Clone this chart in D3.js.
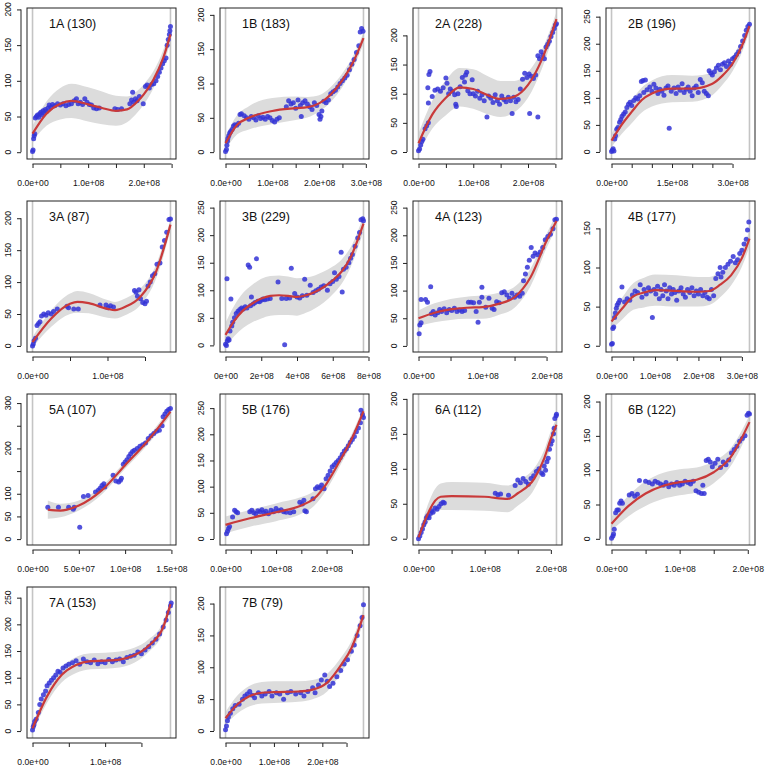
<!DOCTYPE html>
<html><head><meta charset="utf-8">
<script src="https://cdn.jsdelivr.net/npm/d3@7"></script>
<style>body{margin:0;background:#fff}svg{display:block}text{font-family:"Liberation Sans",Arial,Helvetica,sans-serif;fill:#111}</style>
</head><body><svg id="c" width="765" height="769"></svg>
<script>
// ---- data (x in units of 1e8) ----
const panelTitles=["1A (130)","1B (183)","2A (228)","2B (196)","3A (87)","3B (229)","4A (123)","4B (177)","5A (107)","5B (176)","6A (112)","6B (122)","7A (153)","7B (79)"];
const xMaxes=[2.48,2.95,2.52,3.42,1.84,7.72,2.155,3.175,1.49,2.73,2.085,2.025,1.9,2.85];
const yLims=[[-9.5,202],[-10,210],[-12,247],[-13,266],[-9.5,227],[-12,262],[-11,262],[-8,185],[-13,320],[-11.5,277],[-9,207],[-9,211],[-13,270],[-11,226]];
const xTicks=[
 [0,0.5,1,1.5,2,2.5],[0,0.5,1,1.5,2,2.5,3],[0,0.5,1,1.5,2,2.5],[0,0.5,1,1.5,2,2.5,3],
 [0,0.5,1,1.5],[0,2,4,6,8],[0,0.5,1,1.5,2],[0,0.5,1,1.5,2,2.5,3],
 [0,0.5,1,1.5],[0,0.5,1,1.5,2,2.5],[0,0.5,1,1.5,2],[0,0.5,1,1.5,2],
 [0,0.5,1,1.5],[0,0.5,1,1.5,2,2.5]];
const xTickLabels=[
 ["0.0e+00","","1.0e+08","","2.0e+08",""],
 ["0.0e+00","","1.0e+08","","2.0e+08","","3.0e+08"],
 ["0.0e+00","","1.0e+08","","2.0e+08",""],
 ["0.0e+00","","","1.5e+08","","","3.0e+08"],
 ["0.0e+00","","1.0e+08",""],
 ["0e+00","2e+08","4e+08","6e+08","8e+08"],
 ["0.0e+00","","1.0e+08","","2.0e+08"],
 ["0.0e+00","","1.0e+08","","2.0e+08","","3.0e+08"],
 ["0.0e+00","5.0e+07","1.0e+08","1.5e+08"],
 ["0.0e+00","","1.0e+08","","2.0e+08",""],
 ["0.0e+00","","1.0e+08","","2.0e+08"],
 ["0.0e+00","","1.0e+08","","2.0e+08"],
 ["0.0e+00","","1.0e+08",""],
 ["0.0e+00","","1.0e+08","","2.0e+08",""]];
const yTicks=[
 [0,50,100,150,200],[0,50,100,150,200],[0,50,100,150,200],[0,50,100,150,200,250],
 [0,50,100,150,200],[0,50,100,150,200,250],[0,50,100,150,200,250],[0,50,100,150],
 [0,50,100,150,200,250,300],[0,50,100,150,200,250],[0,50,100,150,200],[0,50,100,150,200],
 [0,50,100,150,200,250],[0,50,100,150,200]];
const yTickLabels=[
 ["0","50","100","150","200"],["0","50","100","150","200"],["0","50","100","150","200"],["0","50","100","150","200","250"],
 ["0","50","100","150","200"],["0","50","100","150","200","250"],["0","50","100","150","200","250"],["0","50","100","150"],
 ["0","50","100","","200","","300"],["0","50","100","150","200","250"],["0","50","100","150","200"],["0","50","100","150","200"],
 ["0","50","100","150","200","250"],["0","50","100","150","200"]];

// fitted curve: [x, fit, half-width of band]
const fit1A=[[0,26,11],[0.25,54,17],[0.5,68,22],[0.7,72,24],[1.0,67,24],[1.25,62,23],[1.5,58,21],[1.7,60,18],[1.9,72,15],[2.0,81,14],[2.17,101,12],[2.35,132,11],[2.48,165,10]];
const fit1B=[[0,13,10],[0.25,40,14],[0.5,50,17],[1.0,60,19],[1.5,64,17],[1.75,65.5,15],[2.0,71,12],[2.25,84,11],[2.5,105,10],[2.75,134,9],[2.95,166,8]];
const fit2A=[[0,15,17],[0.25,64,24],[0.5,93,30],[0.75,111,33],[1.0,108,34],[1.25,98,33],[1.5,91,31],[1.75,95,27],[2.0,115,22],[2.25,158,16],[2.52,228,12]];
const fit2B=[[0,21,12],[0.25,50,17],[0.5,74,21],[0.75,96,23],[1.0,108,24],[1.5,117,25],[2.0,117,24],[2.5,126,21],[2.75,141,17],[3.0,163,14],[3.25,199,12],[3.42,233,11]];
const fit3A=[[0,6,8],[0.25,43,13],[0.5,66,16],[0.6,69,17],[0.75,67,16],[1.0,58,14],[1.1,56,13],[1.25,62,13],[1.43,76,13],[1.65,117,11],[1.84,190,9]];
const fit3B=[[0,19,22],[0.5,45,28],[1.0,64,32],[1.5,76,34],[2.0,85,36],[2.5,90,36],[3.0,91,36],[3.5,90,35],[4.0,88,34],[4.5,91,32],[5.0,97,30],[5.5,106,28],[6.0,118,25],[6.5,134,22],[7.0,160,18],[7.72,221,14]];
const fit4A=[[0,50,14],[0.25,60,17],[0.5,66,19],[0.75,69,20],[1.0,70,21],[1.25,76,20],[1.5,88,19],[1.75,124,16],[2.0,190,13],[2.155,226,12]];
const fit4B=[[0,31,10],[0.25,48,14],[0.5,63,17],[0.75,68,19],[1.0,71,20],[1.5,70,20],[2.0,69,19],[2.25,70,18],[2.5,78,16],[2.75,90,13],[3.0,112,11],[3.175,137,10]];
const fit5A=[[0.165,65,20],[0.3,63,15],[0.5,74,11],[0.75,108,9],[1.0,163,8],[1.25,218,8],[1.49,281,9]];
const fit5B=[[0,27,16],[0.5,40,16],[1.0,51,17],[1.5,64,16],[1.75,77,14],[2.0,106,12],[2.25,147,10],[2.5,192,9],[2.73,244,8]];
const fit6A=[[0,2,5],[0.335,60,19],[0.5,61,20],[1.0,60,20],[1.35,57,19],[1.5,65,18],[1.75,86,15],[1.9,115,12],[2.0,143,11],[2.085,163,10]];
const fit6B=[[0,22,10],[0.25,48,15],[0.5,66,18],[0.75,77,19],[1.0,82.5,19],[1.25,86,18],[1.5,97,16],[1.75,119,13],[2.025,170,10]];
const fit7A=[[0,5,8],[0.2,65,12],[0.4,105,14],[0.6,124,15],[0.8,131,15],[1.0,132,15],[1.2,134,15],[1.4,142,14],[1.6,160,12],[1.8,195,10],[1.9,238,9]];
const fit7B=[[0,20,10],[0.25,42,14],[0.5,55,16],[0.75,60,17],[1.0,61,17],[1.5,62,16],[1.8,65,15],[2.1,76,14],[2.4,105,12],[2.6,130,11],[2.85,182,10]];

// observed points: [x, value]
const pts1A=[[0.00,1],[0.01,3],[0.02,19],[0.03,23],[0.04,26],[0.05,48],[0.07,50],[0.09,52],[0.11,49],[0.13,54],[0.15,56],[0.17,52],[0.19,58],[0.21,55],[0.23,60],[0.25,57],[0.28,62],[0.30,66],[0.33,63],[0.36,67],[0.40,65],[0.45,68],[0.50,66],[0.55,68],[0.60,65],[0.65,67],[0.70,68],[0.75,72],[0.79,75],[0.82,68],[0.86,70],[0.90,67],[0.94,75],[0.98,70],[1.02,67],[1.06,66],[1.10,62],[1.15,61],[1.20,62],[1.48,61],[1.53,60],[1.60,61],[1.75,68],[1.78,73],[1.80,84],[1.82,70],[1.85,75],[1.88,72],[1.92,78],[1.99,68],[2.03,92],[2.06,94],[2.10,90],[2.14,95],[2.18,96],[2.22,100],[2.25,106],[2.28,112],[2.31,118],[2.34,124],[2.37,128],[2.40,132],[2.42,150],[2.44,158],[2.46,165],[2.47,170],[2.48,176]];
const pts1B=[[0.00,1],[0.02,4],[0.03,10],[0.04,16],[0.05,20],[0.07,24],[0.09,28],[0.11,30],[0.14,33],[0.17,38],[0.20,40],[0.24,39],[0.28,42],[0.31,55],[0.34,56],[0.40,53],[0.45,50],[0.50,48],[0.55,52],[0.60,50],[0.65,47],[0.70,53],[0.75,49],[0.80,51],[0.85,48],[0.90,52],[0.95,50],[1.00,46],[1.05,44],[1.10,48],[1.15,50],[1.30,66],[1.35,75],[1.40,70],[1.45,72],[1.50,64],[1.55,76],[1.60,68],[1.62,52],[1.65,72],[1.70,75],[1.75,70],[1.80,66],[1.85,62],[1.90,72],[1.95,68],[2.00,55],[2.02,48],[2.04,52],[2.06,60],[2.10,74],[2.15,72],[2.20,76],[2.25,85],[2.30,88],[2.35,90],[2.40,95],[2.45,100],[2.50,104],[2.55,108],[2.60,112],[2.65,120],[2.70,128],[2.75,135],[2.80,145],[2.85,155],[2.88,175],[2.91,180],[2.94,176]];
const pts2A=[[0.00,2],[0.02,5],[0.04,12],[0.06,18],[0.08,22],[0.12,40],[0.15,45],[0.18,50],[0.18,84],[0.17,110],[0.19,133],[0.21,138],[0.25,95],[0.30,106],[0.35,108],[0.40,104],[0.45,110],[0.50,127],[0.52,118],[0.55,100],[0.58,108],[0.62,104],[0.66,98],[0.68,82],[0.69,78],[0.72,100],[0.76,112],[0.80,128],[0.84,120],[0.86,132],[0.88,137],[0.90,105],[0.94,100],[0.98,124],[1.00,100],[1.04,96],[1.08,104],[1.12,92],[1.16,98],[1.20,88],[1.25,60],[1.28,96],[1.32,92],[1.36,85],[1.40,98],[1.44,88],[1.48,82],[1.52,96],[1.56,90],[1.60,86],[1.64,94],[1.68,88],[1.71,66],[1.74,94],[1.78,86],[1.82,90],[1.86,108],[1.90,125],[1.94,135],[1.98,128],[2.03,66],[2.02,134],[2.06,130],[2.10,126],[2.14,132],[2.18,60],[2.18,165],[2.21,160],[2.24,172],[2.27,166],[2.30,160],[2.33,180],[2.36,185],[2.39,190],[2.42,198],[2.45,205],[2.48,212],[2.50,218],[2.52,220]];
const pts2B=[[0.00,1],[0.02,3],[0.04,6],[0.06,2],[0.08,24],[0.10,30],[0.13,42],[0.16,45],[0.20,55],[0.23,60],[0.26,66],[0.30,70],[0.34,74],[0.38,82],[0.42,88],[0.46,92],[0.50,86],[0.55,95],[0.60,100],[0.65,98],[0.70,104],[0.74,130],[0.78,132],[0.84,133],[0.80,110],[0.88,115],[0.95,120],[1.00,112],[1.05,125],[1.10,118],[1.15,108],[1.20,116],[1.25,112],[1.30,105],[1.35,118],[1.40,122],[1.43,44],[1.48,112],[1.55,118],[1.60,108],[1.65,120],[1.70,114],[1.75,126],[1.80,110],[1.85,116],[1.90,120],[1.95,112],[2.00,104],[2.05,118],[2.10,122],[2.15,110],[2.20,134],[2.25,128],[2.30,112],[2.35,108],[2.40,104],[2.42,150],[2.46,146],[2.50,142],[2.55,148],[2.60,155],[2.65,160],[2.70,152],[2.75,162],[2.80,165],[2.85,158],[2.90,168],[2.95,162],[3.00,172],[3.05,175],[3.10,180],[3.15,185],[3.20,195],[3.25,205],[3.30,215],[3.34,225],[3.38,232],[3.42,236]];
const pts3A=[[0.00,0],[0.01,3],[0.02,8],[0.04,12],[0.06,32],[0.08,35],[0.10,38],[0.12,47],[0.15,50],[0.18,48],[0.21,52],[0.25,50],[0.28,54],[0.33,58],[0.46,62],[0.48,60],[0.55,58],[0.61,58],[0.90,64],[0.98,64],[1.01,60],[1.04,63],[1.08,61],[1.36,87],[1.38,84],[1.40,78],[1.42,88],[1.44,74],[1.47,68],[1.50,66],[1.52,70],[1.54,94],[1.57,100],[1.60,110],[1.63,113],[1.66,128],[1.70,130],[1.73,155],[1.76,165],[1.79,178],[1.82,198],[1.84,199]];
const pts3B=[[0.00,2],[0.05,0],[0.08,121],[0.10,8],[0.15,12],[0.20,10],[0.25,26],[0.30,84],[0.35,35],[0.40,42],[0.50,50],[0.60,58],[0.70,62],[0.80,65],[0.90,68],[1.00,66],[1.10,70],[1.20,68],[1.27,146],[1.35,142],[1.40,72],[1.45,88],[1.55,75],[1.65,78],[1.73,157],[1.80,80],[1.90,79],[2.00,82],[2.10,84],[2.20,83],[2.35,84],[2.50,85],[2.94,115],[3.15,85],[3.31,1],[3.40,85],[3.59,86],[3.68,140],[3.87,94],[4.00,88],[4.15,86],[4.30,90],[4.43,120],[4.55,91],[4.74,109],[4.90,96],[5.05,99],[5.20,102],[5.35,106],[5.50,108],[5.70,100],[5.85,112],[6.00,116],[6.10,132],[6.20,120],[6.35,125],[6.47,169],[6.53,97],[6.60,138],[6.75,142],[6.90,150],[7.00,158],[7.10,165],[7.25,180],[7.40,195],[7.50,205],[7.58,228],[7.68,230],[7.72,226]];
const pts4A=[[0.01,22],[0.02,38],[0.04,42],[0.04,84],[0.11,84],[0.14,79],[0.19,107],[0.20,58],[0.23,62],[0.26,56],[0.30,60],[0.33,66],[0.36,62],[0.40,67],[0.44,60],[0.48,66],[0.52,64],[0.56,68],[0.60,62],[0.64,65],[0.68,62],[0.72,64],[0.78,79],[0.82,79],[0.86,78],[0.90,62],[0.93,43],[0.95,79],[0.99,88],[0.99,106],[1.05,70],[1.10,86],[1.15,68],[1.18,66],[1.22,80],[1.26,78],[1.30,96],[1.34,98],[1.38,92],[1.42,86],[1.46,95],[1.50,88],[1.54,92],[1.58,90],[1.62,95],[1.64,118],[1.67,130],[1.70,142],[1.73,155],[1.76,178],[1.79,162],[1.82,168],[1.86,165],[1.90,170],[1.94,178],[1.98,192],[2.02,198],[2.06,202],[2.10,212],[2.13,228],[2.155,229]];
const pts4B=[[0.00,2],[0.02,3],[0.03,22],[0.05,24],[0.07,36],[0.09,42],[0.11,48],[0.13,52],[0.16,55],[0.19,58],[0.24,75],[0.30,56],[0.36,60],[0.42,58],[0.48,65],[0.54,70],[0.60,68],[0.66,78],[0.70,62],[0.75,72],[0.80,66],[0.85,74],[0.90,70],[0.94,36],[0.98,72],[1.02,66],[1.06,76],[1.10,60],[1.14,72],[1.18,64],[1.22,78],[1.26,70],[1.30,60],[1.34,74],[1.38,66],[1.42,72],[1.46,68],[1.50,58],[1.55,70],[1.60,74],[1.65,66],[1.70,62],[1.75,72],[1.80,68],[1.85,74],[1.90,64],[1.95,70],[2.00,66],[2.05,72],[2.10,64],[2.15,68],[2.20,62],[2.25,60],[2.30,72],[2.35,64],[2.40,86],[2.45,92],[2.50,100],[2.52,88],[2.56,94],[2.62,100],[2.68,104],[2.74,108],[2.80,114],[2.85,106],[2.90,110],[2.95,118],[3.00,122],[3.05,130],[3.10,136],[3.13,148],[3.16,158]];
const pts5A=[[0.165,70],[0.28,70],[0.39,70],[0.44,66],[0.45,70],[0.51,26],[0.55,94],[0.60,96],[0.68,104],[0.71,108],[0.73,112],[0.75,118],[0.77,122],[0.78,115],[0.87,141],[0.90,128],[0.93,126],[0.95,130],[0.96,134],[0.98,165],[1.00,170],[1.02,175],[1.04,182],[1.06,188],[1.08,193],[1.10,196],[1.13,200],[1.16,205],[1.19,208],[1.22,212],[1.25,222],[1.28,228],[1.31,233],[1.34,238],[1.37,240],[1.40,250],[1.41,270],[1.43,276],[1.45,282],[1.47,286],[1.49,288]];
const pts5B=[[0.02,10],[0.04,15],[0.06,20],[0.08,24],[0.14,42],[0.18,55],[0.21,52],[0.24,50],[0.48,52],[0.52,55],[0.56,50],[0.60,48],[0.64,54],[0.68,52],[0.72,56],[0.76,50],[0.80,53],[0.85,48],[0.90,55],[0.95,52],[1.00,58],[1.05,54],[1.10,56],[1.15,52],[1.20,51],[1.28,50],[1.35,52],[1.47,70],[1.52,67],[1.55,74],[1.57,54],[1.60,52],[1.73,77],[1.78,96],[1.82,100],[1.86,98],[1.90,103],[1.95,96],[1.99,115],[2.03,122],[2.07,130],[2.11,138],[2.15,142],[2.19,146],[2.23,150],[2.27,155],[2.31,162],[2.35,168],[2.39,172],[2.43,178],[2.47,185],[2.51,190],[2.55,196],[2.59,205],[2.63,212],[2.67,222],[2.68,246],[2.71,238],[2.73,232]];
const pts6A=[[0.00,0],[0.02,4],[0.04,9],[0.06,14],[0.08,20],[0.10,24],[0.12,30],[0.14,33],[0.16,30],[0.18,36],[0.20,40],[0.22,38],[0.25,44],[0.28,42],[0.31,46],[0.34,50],[0.37,52],[0.39,51],[1.16,65],[1.20,63],[1.24,64],[1.36,62],[1.46,76],[1.50,84],[1.54,80],[1.58,86],[1.62,82],[1.66,78],[1.70,86],[1.74,90],[1.78,96],[1.82,100],[1.86,94],[1.88,92],[1.90,104],[1.92,98],[1.94,110],[1.96,115],[1.98,128],[2.00,135],[2.02,140],[2.04,150],[2.05,158],[2.06,172],[2.08,176],[2.085,178]];
const pts6B=[[0.00,1],[0.02,4],[0.03,7],[0.04,14],[0.06,38],[0.08,42],[0.10,42],[0.12,52],[0.14,55],[0.16,52],[0.26,64],[0.30,66],[0.34,62],[0.38,65],[0.41,85],[0.50,84],[0.55,82],[0.60,80],[0.64,84],[0.68,82],[0.72,80],[0.76,78],[0.80,82],[0.84,76],[0.88,80],[0.92,78],[0.96,82],[1.00,78],[1.04,80],[1.08,84],[1.12,82],[1.16,80],[1.20,84],[1.24,70],[1.28,68],[1.32,66],[1.34,78],[1.36,66],[1.39,114],[1.42,116],[1.45,112],[1.48,105],[1.52,110],[1.56,116],[1.60,104],[1.64,112],[1.68,108],[1.72,115],[1.76,125],[1.80,130],[1.84,135],[1.88,142],[1.92,146],[1.96,150],[1.99,180],[2.01,183],[2.025,182]];
const pts7A=[[0.00,2],[0.01,8],[0.02,12],[0.03,18],[0.05,22],[0.08,35],[0.10,50],[0.12,60],[0.15,68],[0.18,75],[0.20,85],[0.23,90],[0.26,95],[0.29,100],[0.32,105],[0.35,112],[0.38,110],[0.42,118],[0.46,122],[0.50,125],[0.55,128],[0.60,132],[0.65,125],[0.70,135],[0.75,130],[0.80,128],[0.85,133],[0.90,126],[0.95,130],[1.00,128],[1.05,134],[1.10,130],[1.15,133],[1.20,135],[1.25,130],[1.30,138],[1.35,140],[1.40,142],[1.45,148],[1.50,145],[1.55,152],[1.60,158],[1.65,165],[1.70,172],[1.75,182],[1.80,195],[1.84,208],[1.87,222],[1.90,235],[1.91,240]];
const pts7B=[[0.00,2],[0.02,8],[0.04,16],[0.06,22],[0.10,28],[0.15,35],[0.20,40],[0.28,42],[0.35,50],[0.40,55],[0.45,58],[0.50,62],[0.55,56],[0.60,52],[0.68,60],[0.75,55],[0.82,58],[0.90,62],[0.96,55],[1.05,60],[1.12,58],[1.20,50],[1.28,60],[1.35,62],[1.45,58],[1.55,60],[1.62,55],[1.70,62],[1.80,68],[1.85,60],[1.92,72],[1.98,80],[2.05,88],[2.10,78],[2.15,70],[2.22,75],[2.30,85],[2.38,95],[2.45,105],[2.52,112],[2.60,125],[2.66,135],[2.72,150],[2.78,165],[2.82,178],[2.85,198]];

const fits=[fit1A,fit1B,fit2A,fit2B,fit3A,fit3B,fit4A,fit4B,fit5A,fit5B,fit6A,fit6B,fit7A,fit7B];
const points=[pts1A,pts1B,pts2A,pts2B,pts3A,pts3B,pts4A,pts4B,pts5A,pts5B,pts6A,pts6B,pts7A,pts7B];

// ---- layout ----
const colLeft=[27,220,413,606], rowTop=[8,201,394,587], boxW=149, boxH=151;
const svg=d3.select("#c");

panelTitles.forEach((title,i)=>{
  const L=colLeft[i%4], T=rowTop[Math.floor(i/4)];
  const m=xMaxes[i];
  const x=d3.scaleLinear().domain([-0.04*m,1.04*m]).range([L,L+boxW]);
  const y=d3.scaleLinear().domain(yLims[i]).range([T+boxH,T]);
  const g=svg.append("g");
  const cid="clip"+i;
  g.append("clipPath").attr("id",cid).append("rect").attr("x",L).attr("y",T).attr("width",boxW).attr("height",boxH);
  const inner=g.append("g").attr("clip-path",`url(#${cid})`);
  inner.append("path").datum(fits[i])
    .attr("d",d3.area().x(d=>x(d[0])).y0(d=>y(d[1]-d[2])).y1(d=>y(d[1]+d[2])).curve(d3.curveMonotoneX))
    .attr("fill","#dcdcdc");
  [0,m].forEach(v=>inner.append("line").attr("x1",x(v)).attr("x2",x(v)).attr("y1",T).attr("y2",T+boxH)
    .attr("stroke","#c4c4c4").attr("stroke-width",1.6));
  inner.append("g").selectAll("circle").data(points[i]).join("circle")
    .attr("cx",d=>x(d[0])).attr("cy",d=>y(d[1])).attr("r",2.5)
    .attr("fill","#3434d6").attr("fill-opacity",0.85);
  inner.append("path").datum(fits[i])
    .attr("d",d3.line().x(d=>x(d[0])).y(d=>y(d[1])).curve(d3.curveMonotoneX))
    .attr("fill","none").attr("stroke","#c93a3a").attr("stroke-width",2.2);
  g.append("rect").attr("x",L).attr("y",T).attr("width",boxW).attr("height",boxH)
    .attr("fill","none").attr("stroke","#222").attr("stroke-width",1);
  g.append("text").attr("x",L+22).attr("y",T+20).attr("font-size",12.5).text(title);
  const xa=g.append("g").attr("transform",`translate(0,${T+boxH+5})`)
    .call(d3.axisBottom(x).tickValues(xTicks[i]).tickSize(4).tickFormat((d,j)=>xTickLabels[i][j]));
  xa.select(".domain").remove();
  xa.selectAll("line").attr("stroke","#222");
  xa.selectAll("text").attr("font-size",8.6).attr("y",null).attr("dy",null).attr("transform","translate(0,22)").style("font-family",null);
  xa.append("line").attr("x1",x(xTicks[i][0])).attr("x2",x(xTicks[i][xTicks[i].length-1])).attr("stroke","#222");
  const ya=g.append("g").attr("transform",`translate(${L-6},0)`)
    .call(d3.axisLeft(y).tickValues(yTicks[i]).tickSize(4).tickFormat(()=>""));
  ya.select(".domain").remove();
  ya.selectAll("line").attr("stroke","#222");
  ya.append("line").attr("y1",y(yTicks[i][0])).attr("y2",y(yTicks[i][yTicks[i].length-1])).attr("stroke","#222");
  yTicks[i].forEach((v,j)=>{
    g.append("text").attr("transform",`translate(${L-16},${y(v)}) rotate(-90)`)
      .attr("text-anchor","middle").attr("font-size",8.6).text(yTickLabels[i][j]);
  });
});
</script>
</body></html>
